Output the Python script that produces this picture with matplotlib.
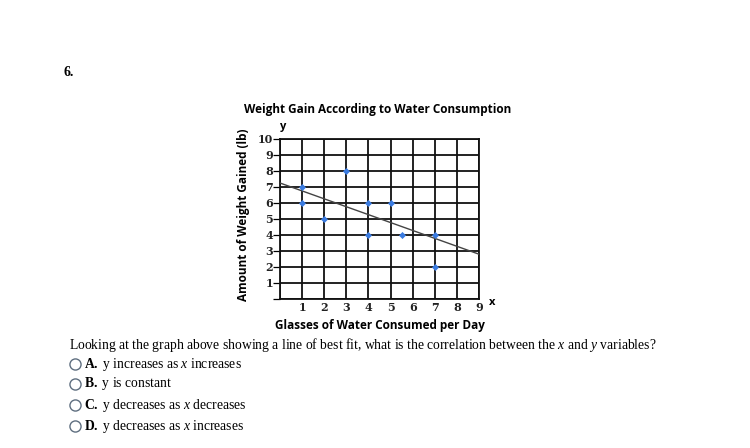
import matplotlib
matplotlib.use("Agg")
import matplotlib.pyplot as plt
from matplotlib.lines import Line2D

# Data
x_vals = [1, 1, 2, 3, 4, 4, 5, 5.5, 7, 7]
y_vals = [7, 6, 5, 8, 6, 4, 6, 4, 4, 2]
fit_x = [0, 9]
fit_y = [7.25, 2.8]
x_ticks = [1, 2, 3, 4, 5, 6, 7, 8, 9]
y_ticks = [1, 2, 3, 4, 5, 6, 7, 8, 9, 10]
title = "Weight Gain According to Water Consumption"
xlabel = "Glasses of Water Consumed per Day"
ylabel = "Amount of Weight Gained (lb)"
question = "Looking at the graph above showing a line of best fit, what is the correlation between the $x$ and $y$ variables?"
options = [r"$\mathbf{A.}$ y increases as $x$ increases",
           r"$\mathbf{B.}$ y is constant",
           r"$\mathbf{C.}$ y decreases as $x$ decreases",
           r"$\mathbf{D.}$ y decreases as $x$ increases"]

plt.rcParams['mathtext.fontset'] = 'custom'
plt.rcParams['mathtext.rm'] = 'Liberation Serif'
plt.rcParams['mathtext.it'] = 'Liberation Serif:italic'
plt.rcParams['mathtext.bf'] = 'Liberation Serif:bold'

W, H = 750, 448
fig = plt.figure(figsize=(7.5, 4.48), dpi=100)
fig.patch.set_facecolor('white')

ax = fig.add_axes([280 / W, 1 - 299 / H, 199 / W, 160 / H])
ax.set_xlim(0, 9)
ax.set_ylim(0, 10)
ax.set_xticks(range(0, 10))
ax.set_yticks(range(0, 11))
ax.grid(True, color='#111111', linewidth=1.3)
for s in ax.spines.values():
    s.set_color('#111111')
    s.set_linewidth(1.3)
ax.set_axisbelow(True)

ax.set_xticklabels([])
ax.set_yticklabels([])
ax.tick_params(axis='x', length=0)
ax.tick_params(axis='y', length=5, width=0.9, direction='out', pad=1)
for t in x_ticks:
    ax.text(t, -0.5, str(t), ha='center', va='center', fontsize=8, weight='bold',
            family='DejaVu Serif', color='#222222', transform=ax.transData)
for t in y_ticks:
    ax.text(-0.3, t, str(t), ha='right', va='center', fontsize=8, weight='bold',
            family='DejaVu Serif', color='#222222', transform=ax.transData)

ax.plot(fit_x, fit_y, color='#444444', linewidth=1.0, zorder=3)
ax.scatter(x_vals, y_vals, marker='D', s=13, color='#3a7be0', zorder=4, linewidths=0)

# axis letters
fig.text(283 / W, 1 - 127 / H, "y", fontsize=8, family='Open Sans', weight='bold', ha='center', va='center')
fig.text(492 / W, 1 - 302 / H, "x", fontsize=8, family='Open Sans', weight='bold', ha='center', va='center')

fig.text(378 / W, 1 - 110 / H, title, fontsize=8.5, family='Open Sans', weight='bold', ha='center', va='center')
fig.text(380 / W, 1 - 325 / H, xlabel, fontsize=8.5, family='Open Sans', weight='bold', ha='center', va='center')
fig.text(243 / W, 1 - 215 / H, ylabel, fontsize=8.5, family='Open Sans', weight='bold', ha='center', va='center', rotation=90)

fig.text(63 / W, 1 - 73 / H, "6.", fontsize=10, family='Liberation Serif', weight='bold', ha='left', va='center')

fig.text(69 / W, 1 - 345 / H, question, fontsize=9.8, family='Liberation Serif', ha='left', va='center')
opt_y = [364, 384, 405, 426]
for oy, txt in zip(opt_y, options):
    fig.add_artist(Line2D([75 / W], [1 - oy / H], marker='o', markersize=8, markerfacecolor='white',
                          markeredgecolor='#5f6f80', markeredgewidth=1.0, transform=fig.transFigure))
    fig.text(84 / W, 1 - oy / H, txt, fontsize=9.8, family='Liberation Serif', ha='left', va='center')

fig.savefig("out.png", dpi=100)
